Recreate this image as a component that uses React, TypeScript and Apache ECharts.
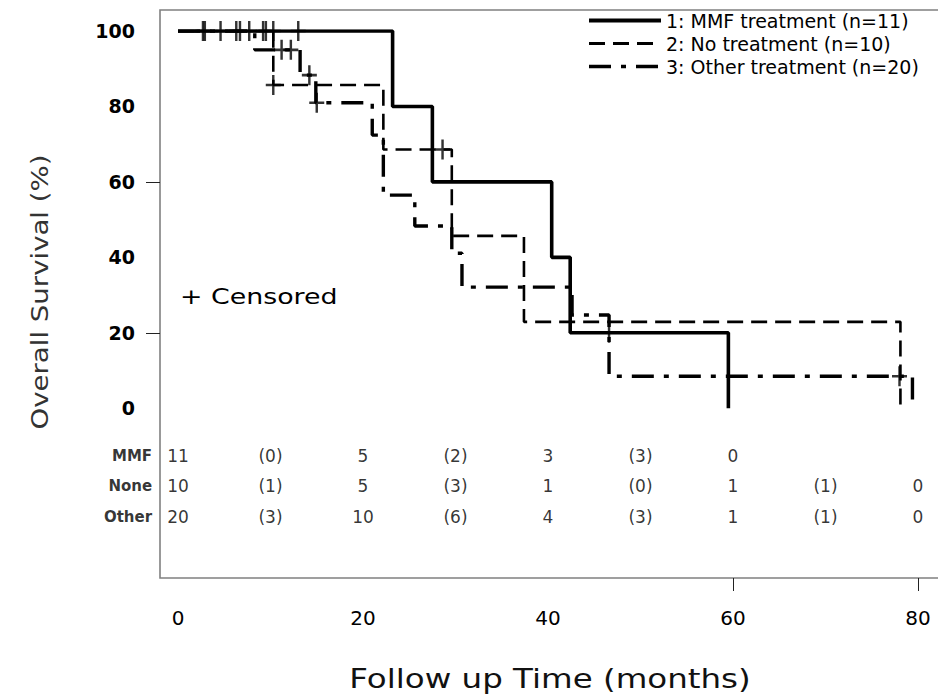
import React, { useEffect, useRef } from "react";
import * as echarts from "echarts";

// ---- data ----
const seriesNames = [
  "1: MMF treatment (n=11)",
  "2: No treatment (n=10)",
  "3: Other treatment (n=20)",
];

// Kaplan–Meier step points (time in months, survival %)
const mmfTimes = [0, 23.2, 27.5, 40.4, 42.4, 59.5];
const mmfSurv = [100, 80, 60, 40, 20, 0];

const noneTimes = [0, 10.3, 22.2, 29.6, 37.4, 78.1];
const noneSurv = [100, 85.7, 68.6, 45.7, 22.9, 0];

const otherTimes = [0, 8.3, 13.2, 14.9, 21.0, 22.2, 25.6, 29.6, 30.7, 42.6, 46.6, 79.4];
const otherSurv = [100, 95, 88.3, 81, 72.4, 56.5, 48.3, 41.1, 32.1, 24.7, 8.5, 0];

// censored observations
const mmfCensorTimes = [2.7, 4.6, 6.3, 7.7, 9.2, 13.0, 46.6];
const mmfCensorSurv = [100, 100, 100, 100, 100, 100, 20];
const noneCensorTimes = [2.9, 6.7, 9.5, 10.3, 28.6];
const noneCensorSurv = [100, 100, 100, 85.7, 68.6];
const otherCensorTimes = [10.3, 11.2, 12.2, 14.2, 15.0, 78.0];
const otherCensorSurv = [100, 95, 95, 88.3, 81, 8.5];

// numbers-at-risk table
const riskMonths = [0, 10, 20, 30, 40, 50, 60, 70, 80];
const riskRowLabels = ["MMF", "None", "Other"];
const mmfRisk = ["11", "(0)", "5", "(2)", "3", "(3)", "0"];
const noneRisk = ["10", "(1)", "5", "(3)", "1", "(0)", "1", "(1)", "0"];
const otherRisk = ["20", "(3)", "10", "(6)", "4", "(3)", "1", "(1)", "0"];

// axis tick labels
const xTickLabels = [0, 20, 40, 60, 80];
const xTickMarks = [60, 80];
const yTickLabels = [0, 20, 40, 60, 80, 100];
const yTickMarks = [20, 60];

// layout constants (not data)
const ROW_Y = [-12.7, -20.6, -28.8];
const ROW_LABEL_X = -2.8;
const PLUS =
  "path://M6.7,0L9.3,0L9.3,8.7L16,8.7L16,11.3L9.3,11.3L9.3,20L6.7,20L6.7,11.3L0,11.3L0,8.7L6.7,8.7Z";
const FONT = "DejaVu Sans";

export default function App() {
  const ref = useRef<HTMLDivElement>(null);

  useEffect(() => {
    document.body.style.margin = "0";
    if (!ref.current) return;
    const chart = echarts.init(ref.current, undefined, { renderer: "svg" });

    const pair = (ts: number[], vs: any[]) => ts.map((t, i) => [t, vs[i]]);

    const risks = [mmfRisk, noneRisk, otherRisk];
    const riskSeries = risks.map((row, r) => ({
      type: "scatter",
      name: "risk-" + r,
      clip: false,
      silent: true,
      symbolSize: 0,
      data: row.map((txt, i) => [riskMonths[i], ROW_Y[r], txt]),
      label: {
        show: true,
        position: "inside",
        formatter: (p: any) => p.data[2],
        fontFamily: FONT,
        fontSize: 17,
        color: "#000",
      },
    }));

    const rowLabelSeries = {
      type: "scatter",
      name: "rowlabels",
      clip: false,
      silent: true,
      symbolSize: 0,
      data: riskRowLabels.map((l, r) => [ROW_LABEL_X, ROW_Y[r], l]),
      label: {
        show: true,
        position: "left",
        distance: 0,
        formatter: (p: any) => p.data[2],
        fontFamily: FONT,
        fontWeight: "bold",
        fontSize: 15,
        color: "#000",
      },
    };

    const censorSeries = [
      pair(mmfCensorTimes, mmfCensorSurv),
      pair(noneCensorTimes, noneCensorSurv),
      pair(otherCensorTimes, otherCensorSurv),
    ].map((d, i) => ({
      type: "scatter",
      name: "censor-" + i,
      clip: false,
      silent: true,
      symbol: PLUS,
      symbolSize: [15, 20],
      itemStyle: { color: "#000" },
      data: d,
    }));

    const legendWidths = [4, 3, 3.4];

    const option: any = {
      animation: false,
      backgroundColor: "#fff",
      grid: { left: 178, right: 20, top: 31, bottom: 118 },
      legend: {
        data: seriesNames.map((n, i) => ({
          name: n,
          lineStyle: { width: legendWidths[i] },
        })),
        orient: "vertical",
        left: 582,
        top: 6,
        itemWidth: 72,
        itemHeight: 14,
        itemGap: 4,
        itemStyle: { opacity: 0 },
        textStyle: { fontFamily: FONT, fontSize: 19, color: "#000" },
      },
      xAxis: {
        type: "value",
        min: 0,
        max: 80,
        axisLine: { show: false, onZero: false },
        splitLine: { show: false },
        axisTick: {
          show: true,
          customValues: xTickMarks,
          length: 13,
          lineStyle: { color: "#222", width: 1 },
        },
        axisLabel: {
          customValues: xTickLabels,
          margin: 30,
          fontFamily: FONT,
          fontSize: 20,
          color: "#000",
        },
      },
      yAxis: {
        type: "value",
        min: -45,
        max: 100,
        offset: 18,
        axisLine: { show: false, onZero: false },
        splitLine: { show: false },
        axisTick: {
          show: true,
          customValues: yTickMarks,
          length: 14,
          lineStyle: { color: "#222", width: 1 },
        },
        axisLabel: {
          customValues: yTickLabels,
          margin: 25,
          fontFamily: FONT,
          fontWeight: "bold",
          fontSize: 19,
          color: "#000",
        },
      },
      graphic: [
        {
          type: "polyline",
          shape: {
            points: [
              [940, 10],
              [160, 10],
              [160, 578],
              [940, 578],
            ],
          },
          style: { stroke: "#808080", lineWidth: 1.6, fill: null },
          silent: true,
        },
        {
          type: "text",
          x: 180,
          y: 296,
          scaleX: 1.22,
          style: {
            text: "+ Censored",
            fontFamily: FONT,
            fontSize: 22,
            fill: "#000",
            verticalAlign: "middle",
            align: "left",
          },
        },
        {
          type: "text",
          x: 40,
          y: 292,
          rotation: Math.PI / 2,
          scaleX: 1.2,
          style: {
            text: "Overall Survival (%)",
            fontFamily: FONT,
            fontSize: 23,
            fill: "#333",
            align: "center",
            verticalAlign: "middle",
          },
        },
        {
          type: "text",
          x: 550,
          y: 679,
          scaleX: 1.25,
          style: {
            text: "Follow up Time (months)",
            fontFamily: FONT,
            fontSize: 26,
            fill: "#111",
            align: "center",
            verticalAlign: "middle",
          },
        },
      ],
      series: [
        {
          type: "line",
          name: seriesNames[0],
          step: "end",
          symbol: "none",
          data: pair(mmfTimes, mmfSurv),
          lineStyle: { color: "#000", width: 3.6, type: "solid" },
          itemStyle: { color: "#000" },
          z: 3,
        },
        {
          type: "line",
          name: seriesNames[1],
          step: "end",
          symbol: "none",
          data: pair(noneTimes, noneSurv),
          lineStyle: { color: "#000", width: 2.6, type: [16, 8] },
          itemStyle: { color: "#000" },
          z: 2,
        },
        {
          type: "line",
          name: seriesNames[2],
          step: "end",
          symbol: "none",
          data: pair(otherTimes, otherSurv),
          lineStyle: { color: "#000", width: 3.4, type: [22, 10, 5, 10] },
          itemStyle: { color: "#000" },
          z: 2,
        },
        ...censorSeries,
        ...riskSeries,
        rowLabelSeries,
      ],
    };

    chart.setOption(option);
    return () => chart.dispose();
  }, []);

  return (
    <div
      ref={ref}
      style={{ position: "absolute", left: 0, top: 0, width: 938, height: 696 }}
    />
  );
}
